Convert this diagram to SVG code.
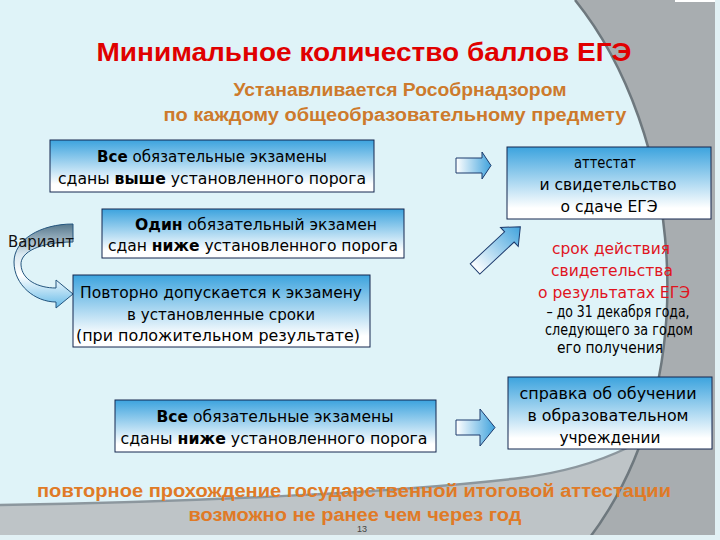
<svg xmlns="http://www.w3.org/2000/svg" width="720" height="540" viewBox="0 0 720 540">
<defs>
<linearGradient id="boxg" x1="0" y1="0" x2="0" y2="1">
<stop offset="0" stop-color="#3ca3de"/>
<stop offset="0.85" stop-color="#ffffff"/>
</linearGradient>
<linearGradient id="arrg" x1="0" y1="0" x2="1" y2="0">
<stop offset="0" stop-color="#ffffff"/>
<stop offset="1" stop-color="#41a3dd"/>
</linearGradient>
<linearGradient id="curvg" gradientUnits="userSpaceOnUse" x1="40" y1="224" x2="40" y2="310">
<stop offset="0" stop-color="#56778c"/>
<stop offset="0.35" stop-color="#d9e8f0"/>
<stop offset="0.6" stop-color="#ffffff"/>
<stop offset="1" stop-color="#5ab5e6"/>
</linearGradient>
<style>
.box{fill:url(#boxg);stroke:#14264e;stroke-width:1}
.arr{fill:url(#arrg);stroke:#1c3a6c;stroke-width:1}
.t{font-family:"DejaVu Sans","Liberation Sans",sans-serif;font-size:16px;fill:#000;text-anchor:middle}
.b{font-weight:bold}
.red{fill:#e0141e}
.hd{font-family:"Liberation Sans",Arial,sans-serif;font-weight:bold;text-anchor:middle}
</style>
</defs>
<g id="background">
<rect width="720" height="540" fill="#dff3f8"/>
<path d="M0,505 C200,502 400,492 520,478 C600,468 660,440 720,380 L720,540 L0,540 Z" fill="#bec4c7"/>
<path d="M0,505 C200,502 400,492 520,478 C600,468 660,440 720,380" fill="none" stroke="#8c979e" stroke-width="2.5"/>
<path d="M575,0 C680,130 710,380 588,540 L720,540 L720,0 Z" fill="#a8adb0"/>
<path d="M575,0 C680,130 710,380 588,540" fill="none" stroke="#6e787e" stroke-width="2.5"/>
<rect x="0" y="535" width="720" height="5" fill="#e2f1f5"/>
<rect x="715" y="0" width="5" height="540" fill="#e2f1f5"/>
<rect x="675" y="0" width="40" height="2" fill="#ffffff"/>
</g>
<g id="title">
<text class="hd" x="364" y="61" font-size="25" fill="#e00000" textLength="535" lengthAdjust="spacingAndGlyphs">Минимальное количество баллов ЕГЭ</text>
<text class="hd" x="400" y="96" font-size="17.5" fill="#cd7a2c" textLength="333" lengthAdjust="spacingAndGlyphs">Устанавливается Рособрнадзором</text>
<text class="hd" x="395" y="121" font-size="17.5" fill="#cd7a2c" textLength="463" lengthAdjust="spacingAndGlyphs">по каждому общеобразовательному предмету</text>
</g>
<g id="connectors">
<path class="arr" d="M456,158 L482,158 L482,152 L491,165.5 L482,179 L482,173 L456,173 Z"/>
<path class="arr" transform="translate(475,269) rotate(-43)" d="M0,-7 L47,-7 L47,-13 L62,0 L47,13 L47,7 L0,7 Z"/>
<path class="arr" d="M456,420 L480,420 L480,409 L495,427.5 L480,446 L480,435 L456,435 Z"/>
<path d="M73,224 C40,224 14,240 14,262 C14,285 35,302 56,302 L56,308 L73,294 L56,280 L56,288 C38,288 22,280 21,265 C20,252 40,242 73,242 Z" fill="url(#curvg)" stroke="#24557e" stroke-width="1"/>
</g>
<g id="variant">
<text x="8" y="247" font-family="DejaVu Sans, Liberation Sans, sans-serif" font-size="16" fill="#111" textLength="66" lengthAdjust="spacingAndGlyphs">Вариант</text>
</g>
<g id="box1">
<rect class="box" x="50" y="140" width="324" height="52"/>
<text class="t" x="212" y="162" textLength="230" lengthAdjust="spacingAndGlyphs"><tspan class="b">Все</tspan> обязательные экзамены</text>
<text class="t" x="212" y="184" textLength="308" lengthAdjust="spacingAndGlyphs">сданы <tspan class="b">выше</tspan> установленного порога</text>
</g>
<g id="box2">
<rect class="box" x="102" y="209" width="302" height="49"/>
<text class="t" x="256" y="230" textLength="242" lengthAdjust="spacingAndGlyphs"><tspan class="b">Один</tspan> обязательный экзамен</text>
<text class="t" x="253" y="251" textLength="290" lengthAdjust="spacingAndGlyphs">сдан <tspan class="b">ниже</tspan> установленного порога</text>
</g>
<g id="box3">
<rect class="box" x="73" y="275" width="297" height="72"/>
<text class="t" x="221" y="298" textLength="282" lengthAdjust="spacingAndGlyphs">Повторно допускается к экзамену</text>
<text class="t" x="221" y="320" textLength="188" lengthAdjust="spacingAndGlyphs">в установленные сроки</text>
<text class="t" x="218" y="341" textLength="284" lengthAdjust="spacingAndGlyphs">(при положительном результате)</text>
</g>
<g id="box4">
<rect class="box" x="115" y="400" width="321" height="52"/>
<text class="t" x="275" y="422" textLength="237" lengthAdjust="spacingAndGlyphs"><tspan class="b">Все</tspan> обязательные экзамены</text>
<text class="t" x="274" y="444" textLength="307" lengthAdjust="spacingAndGlyphs">сданы <tspan class="b">ниже</tspan> установленного порога</text>
</g>
<g id="box5">
<rect class="box" x="507" y="147" width="204" height="72"/>
<text class="t" x="605" y="168" font-size="17.5" textLength="62" lengthAdjust="spacingAndGlyphs">аттестат</text>
<text class="t" x="608" y="190" font-size="17.5" textLength="137" lengthAdjust="spacingAndGlyphs">и свидетельство</text>
<text class="t" x="609" y="212" font-size="17.5" textLength="97" lengthAdjust="spacingAndGlyphs">о сдаче ЕГЭ</text>
</g>
<g id="validity">
<text class="t red" x="611" y="254" font-size="17" textLength="118" lengthAdjust="spacingAndGlyphs">срок действия</text>
<text class="t red" x="612" y="276" font-size="17" textLength="122" lengthAdjust="spacingAndGlyphs">свидетельства</text>
<text class="t red" x="614" y="298" font-size="17" textLength="152" lengthAdjust="spacingAndGlyphs">о результатах ЕГЭ</text>
<text class="t" x="618" y="317" font-size="14.5" textLength="143" lengthAdjust="spacingAndGlyphs">– до 31 декабря года,</text>
<text class="t" x="619" y="335" font-size="14.5" textLength="148" lengthAdjust="spacingAndGlyphs">следующего  за годом</text>
<text class="t" x="610" y="353" font-size="14.5" textLength="106" lengthAdjust="spacingAndGlyphs">его получения</text>
</g>
<g id="box6">
<rect class="box" x="508" y="377" width="204" height="72"/>
<text class="t" x="608" y="399" font-size="18" textLength="177" lengthAdjust="spacingAndGlyphs">справка об обучении</text>
<text class="t" x="608" y="421" font-size="18" textLength="161" lengthAdjust="spacingAndGlyphs">в образовательном</text>
<text class="t" x="610" y="443" font-size="18" textLength="101" lengthAdjust="spacingAndGlyphs">учреждении</text>
</g>
<g id="footer">
<text class="hd" x="354" y="497" font-size="18" fill="#e07a26" textLength="634" lengthAdjust="spacingAndGlyphs">повторное прохождение государственной итоговой аттестации</text>
<text class="hd" x="355" y="521" font-size="18" fill="#e07a26" textLength="333" lengthAdjust="spacingAndGlyphs">возможно не ранее чем через год</text>
<text x="362" y="532" font-family="Liberation Sans, Arial, sans-serif" font-size="9" fill="#444" text-anchor="middle">13</text>
</g>
</svg>
